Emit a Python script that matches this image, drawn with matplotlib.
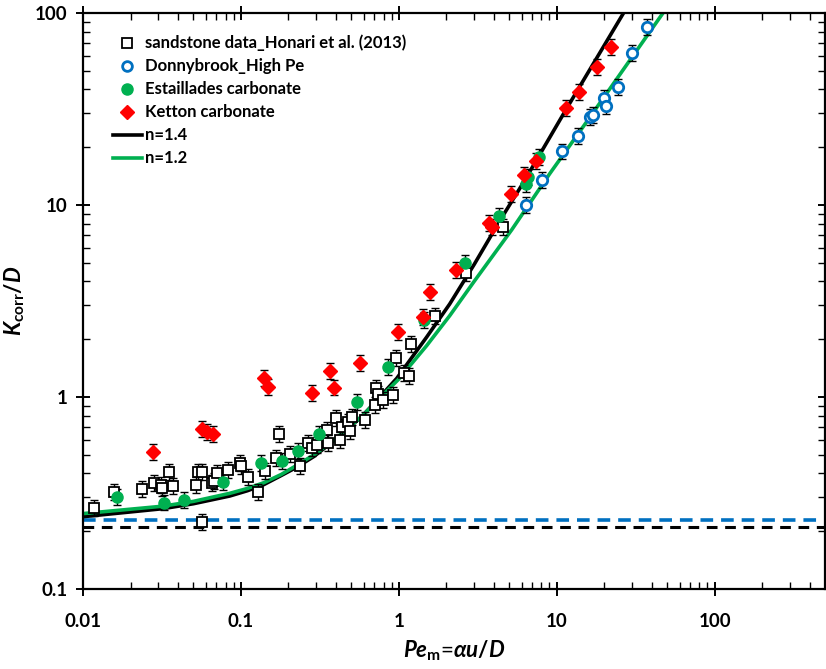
"""
plot.py — K_corr/D frente a Pe_m (escala log-log)

Genera out.png con los datos de arenisca, Donnybrook, Estaillades y Ketton
junto con las curvas n=1.4 y n=1.2.
"""

import numpy as np
import matplotlib
matplotlib.use("Agg")
import matplotlib.pyplot as plt
from matplotlib.lines import Line2D
from matplotlib.ticker import FixedLocator, FixedFormatter, LogLocator, NullFormatter

# ─── Datos ────────────────────────────────────────────────────────────────────

sandstone_pe = [0.0118, 0.0158, 0.0237, 0.0281, 0.0312, 0.0318, 0.0352, 0.0370,
                0.0517, 0.0537, 0.0564, 0.0564, 0.0653, 0.0678, 0.0708, 0.0832,
                0.0986, 0.100, 0.111, 0.129, 0.142, 0.167, 0.175, 0.204, 0.238,
                0.267, 0.280, 0.304, 0.349, 0.357, 0.399, 0.424, 0.434, 0.478,
                0.490, 0.502, 0.609, 0.705, 0.722, 0.739, 0.796, 0.920, 0.966,
                1.08, 1.16, 1.20, 1.69, 2.68, 4.57]
sandstone_k = [0.263, 0.321, 0.331, 0.358, 0.348, 0.334, 0.407, 0.344,
               0.348, 0.408, 0.408, 0.223, 0.358, 0.367, 0.400, 0.417,
               0.455, 0.439, 0.384, 0.321, 0.410, 0.480, 0.642, 0.505, 0.437,
               0.574, 0.541, 0.562, 0.673, 0.574, 0.774, 0.597, 0.695, 0.743,
               0.668, 0.784, 0.759, 0.909, 1.11, 1.04, 0.965, 1.02, 1.59,
               1.34, 1.29, 1.88, 2.64, 4.41, 7.65]

donny_pe = [6.37, 8.11, 10.85, 13.6, 16.2, 17.0, 19.8, 20.6, 24.4, 30.0, 37.3]
donny_k = [10.0, 13.5, 19.0, 22.9, 28.6, 29.4, 36.2, 32.8, 41.3, 61.6, 84.9]

estail_pe = [0.0163, 0.0326, 0.0436, 0.0765, 0.135, 0.183, 0.230, 0.313,
             0.540, 0.855, 1.44, 2.62, 4.31, 6.37, 6.58, 7.69]
estail_k = [0.303, 0.282, 0.291, 0.359, 0.455, 0.464, 0.525, 0.640,
            0.946, 1.43, 2.52, 4.97, 8.77, 12.9, 14.0, 17.7]

ketton_pe = [0.0279, 0.0564, 0.0612, 0.0668, 0.140, 0.149, 0.284, 0.366,
             0.388, 0.566, 0.99, 1.43, 1.57, 2.30, 3.73, 3.92, 5.17, 6.21,
             7.36, 11.5, 13.8, 18.1, 22.0]
ketton_k = [0.515, 0.681, 0.659, 0.642, 1.25, 1.13, 1.05, 1.37,
            1.12, 1.50, 2.17, 2.62, 3.54, 4.59, 8.03, 7.71, 11.4, 14.4,
            17.0, 32.1, 38.7, 52.5, 66.2]

# curvas
n14_pe = [0.01, 0.032, 0.05, 0.085, 0.11, 0.14, 0.18, 0.225, 0.29, 0.366,
          0.46, 0.59, 0.75, 0.97, 1.5, 2.1, 3.0, 4.37, 6.12, 11.5, 26.5]
n14_k = [0.238, 0.262, 0.278, 0.305, 0.325, 0.350, 0.39, 0.43, 0.49, 0.57,
         0.665, 0.80, 0.99, 1.25, 2.05, 3.05, 4.9, 8.3, 13.0, 31.6, 100]
n12_pe = [0.01, 0.032, 0.05, 0.085, 0.11, 0.14, 0.18, 0.225, 0.29, 0.366,
          0.46, 0.59, 0.75, 1.0, 1.5, 2.1, 3.0, 5.19, 9.0, 16.2, 47.1]
n12_k = [0.247, 0.270, 0.286, 0.315, 0.334, 0.358, 0.395, 0.44, 0.50, 0.575,
         0.67, 0.80, 0.98, 1.24, 1.85, 2.65, 4.0, 7.43, 14.5, 28.6, 100]

blue_level = 0.229
black_level = 0.210

x_ticks = [0.01, 0.1, 1, 10, 100]
x_labels = ["0.01", "0.1", "1", "10", "100"]
y_ticks = [0.1, 1, 10, 100]
y_labels = ["0.1", "1", "10", "100"]

ERR = 1.1  # factor de la barra de error

GREEN = "#00B050"
BLUE = "#0070C0"
RED = "#FF0000"

# ─── Estilo ───────────────────────────────────────────────────────────────────

plt.rcParams["font.family"] = ["Lato", "DejaVu Sans"]
plt.rcParams["font.weight"] = "bold"
plt.rcParams["mathtext.fontset"] = "custom"
plt.rcParams["mathtext.rm"] = "Lato:bold"
plt.rcParams["mathtext.it"] = "Lato:italic:bold"
plt.rcParams["mathtext.bf"] = "Lato:bold"

fig = plt.figure(figsize=(8.26, 6.69), dpi=100)
ax = fig.add_axes([83 / 826, 80 / 669, 742 / 826, 576 / 669])


def errbars(pe, k):
    k = np.asarray(k)
    yerr = [k - k / ERR, k * ERR - k]
    ax.errorbar(pe, k, yerr=yerr, fmt="none", ecolor="black",
                elinewidth=1.0, capsize=3, capthick=1.0, zorder=3)


# ─── Líneas horizontales y curvas ─────────────────────────────────────────────

ax.axhline(blue_level, color=BLUE, lw=2.6, dashes=(3.5, 2.2), zorder=2)
ax.axhline(black_level, color="black", lw=2.2, dashes=(3.5, 2.5), zorder=2)

ax.plot(n14_pe, n14_k, color="black", lw=2.6, zorder=2, label="n=1.4")
ax.plot(n12_pe, n12_k, color=GREEN, lw=2.6, zorder=2, label="n=1.2")

# ─── Datos con barras de error ────────────────────────────────────────────────

for pe, k in [(sandstone_pe, sandstone_k), (donny_pe, donny_k),
              (estail_pe, estail_k), (ketton_pe, ketton_k)]:
    errbars(pe, k)

ax.plot(sandstone_pe, sandstone_k, ls="none", marker="s", ms=7, mfc="white",
        mec="black", mew=1.3, zorder=4)
ax.plot(donny_pe, donny_k, ls="none", marker="o", ms=7.5, mfc="white",
        mec=BLUE, mew=2.0, zorder=4)
ax.plot(estail_pe, estail_k, ls="none", marker="o", ms=8, mfc=GREEN,
        mec=GREEN, zorder=5)
ax.plot(ketton_pe, ketton_k, ls="none", marker="D", ms=7.3, mfc=RED,
        mec=RED, zorder=5)

# ─── Ejes ─────────────────────────────────────────────────────────────────────

ax.set_xscale("log")
ax.set_yscale("log")
ax.set_xlim(0.01, 500)
ax.set_ylim(0.1, 100)

ax.xaxis.set_major_locator(FixedLocator(x_ticks))
ax.xaxis.set_major_formatter(FixedFormatter(x_labels))
ax.yaxis.set_major_locator(FixedLocator(y_ticks))
ax.yaxis.set_major_formatter(FixedFormatter(y_labels))
for axis in (ax.xaxis, ax.yaxis):
    axis.set_minor_locator(LogLocator(base=10, subs=np.arange(2, 10)))
    axis.set_minor_formatter(NullFormatter())

ax.tick_params(which="major", direction="inout", length=10, width=1.4,
               labelsize=13.5, top=True, right=True, pad=6)
ax.tick_params(which="minor", direction="in", length=5, width=1.0,
               top=True, right=True)
ax.tick_params(axis="x", which="major", pad=12)
for s in ax.spines.values():
    s.set_linewidth(1.6)

ax.set_xlabel(r"$Pe_{\mathrm{m}}$=$\alpha u/D$", fontsize=16, labelpad=6)
ax.set_ylabel(r"$K_{\mathrm{corr}}/D$", fontsize=16, labelpad=6)

# ─── Leyenda ──────────────────────────────────────────────────────────────────

handles = [
    Line2D([], [], ls="none", marker="s", ms=7, mfc="white", mec="black", mew=1.3),
    Line2D([], [], ls="none", marker="o", ms=7, mfc="white", mec=BLUE, mew=2.0),
    Line2D([], [], ls="none", marker="o", ms=8, mfc=GREEN, mec=GREEN),
    Line2D([], [], ls="none", marker="D", ms=7, mfc=RED, mec=RED),
    Line2D([], [], color="black", lw=2.6),
    Line2D([], [], color=GREEN, lw=2.6),
]
labels = ["sandstone data_Honari et al. (2013)", "Donnybrook_High Pe",
          "Estaillades carbonate", "Ketton carbonate", "n=1.4", "n=1.2"]
ax.legend(handles, labels, loc="upper left", bbox_to_anchor=(0.040, 0.962),
          frameon=False, fontsize=12, borderpad=0, labelspacing=0.42,
          handlelength=1.75, handletextpad=0.2, borderaxespad=0)

fig.savefig("out.png", dpi=100)
plt.close(fig)
